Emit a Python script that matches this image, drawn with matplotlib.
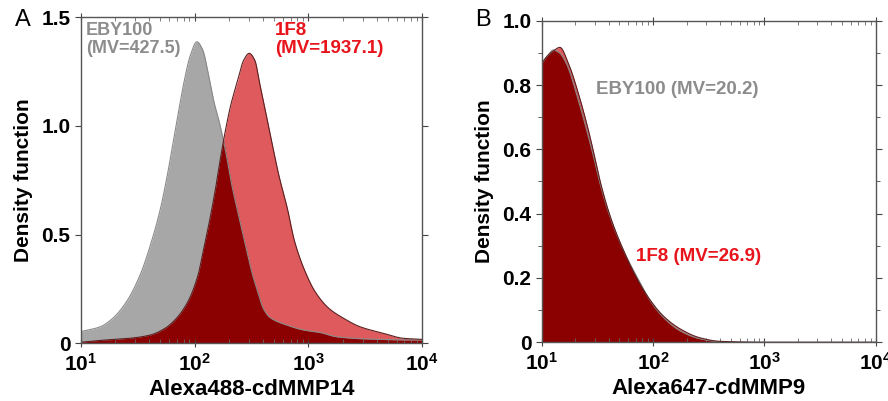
import numpy as np
import matplotlib
matplotlib.use("Agg")
import matplotlib.pyplot as plt
from matplotlib.ticker import LogLocator, NullFormatter, MultipleLocator

plt.rcParams['font.family'] = ['Liberation Sans', 'DejaVu Sans']
plt.rcParams['mathtext.fontset'] = 'custom'
plt.rcParams['mathtext.rm'] = 'Liberation Sans'
plt.rcParams['mathtext.bf'] = 'Liberation Sans:bold'

# panel A: Alexa488-cdMMP14 (log10 of intensity, density)
a_eby_logx = [1.00, 1.17, 1.28, 1.40, 1.52, 1.62, 1.70, 1.76, 1.81, 1.86, 1.91, 1.96,
              2.02, 2.07, 2.12, 2.17, 2.22, 2.27, 2.33, 2.39, 2.44, 2.51, 2.56, 2.60,
              2.66, 2.81, 2.96, 3.10, 3.25, 3.51, 3.95, 4.00]
a_eby_dens = [0.054, 0.076, 0.115, 0.191, 0.314, 0.467, 0.621, 0.774, 0.92, 1.07, 1.21, 1.32,
              1.386, 1.35, 1.24, 1.11, 1.01, 0.89, 0.72, 0.58, 0.467, 0.314, 0.23, 0.165,
              0.12, 0.084, 0.061, 0.05, 0.03, 0.02, 0.015, 0.015]
a_1f8_logx = [1.00, 1.14, 1.43, 1.61, 1.74, 1.84, 1.94, 2.03, 2.08, 2.13, 2.18, 2.23,
              2.275, 2.32, 2.38, 2.43, 2.48, 2.53, 2.57, 2.63, 2.69, 2.74, 2.815, 2.88,
              2.985, 3.06, 3.18, 3.31, 3.455, 3.66, 3.835, 4.00]
a_1f8_dens = [0.005, 0.012, 0.023, 0.038, 0.069, 0.115, 0.191, 0.314, 0.437, 0.56, 0.70, 0.86,
              0.99, 1.10, 1.21, 1.30, 1.333, 1.30, 1.20, 1.05, 0.896, 0.774, 0.621, 0.467,
              0.314, 0.237, 0.161, 0.115, 0.076, 0.046, 0.023, 0.018]

# panel B: Alexa647-cdMMP9
b_eby_logx = [1.00, 1.045, 1.104, 1.16, 1.22, 1.32, 1.404, 1.47, 1.524, 1.613, 1.733,
              1.883, 1.973, 2.092, 2.242, 2.422, 2.60, 3.00, 4.00]
b_eby_dens = [0.868, 0.888, 0.909, 0.90, 0.868, 0.764, 0.66, 0.572, 0.494, 0.391, 0.287,
              0.186, 0.130, 0.078, 0.036, 0.011, 0.002, 0.0, 0.0]
b_1f8_logx = [1.00, 1.045, 1.104, 1.164, 1.239, 1.338, 1.419, 1.479, 1.53, 1.616, 1.733,
              1.88, 1.973, 2.092, 2.242, 2.422, 2.60, 3.00, 4.00]
b_1f8_dens = [0.868, 0.888, 0.906, 0.917, 0.868, 0.764, 0.66, 0.572, 0.494, 0.391, 0.287,
              0.183, 0.132, 0.082, 0.042, 0.014, 0.003, 0.0, 0.0]

GRAY = '#a7a7a7'
LIGHT_RED = '#df5a5c'
DARK_RED = '#8b0000'


def smooth(x, y, xn):
    # monotone cubic (Fritsch-Carlson) so the read points are joined by a smooth line
    x = np.asarray(x, float)
    y = np.asarray(y, float)
    h = np.diff(x)
    d = np.diff(y) / h
    m = np.zeros_like(y)
    m[0], m[-1] = d[0], d[-1]
    for i in range(1, len(x) - 1):
        if d[i - 1] * d[i] > 0:
            w1 = 2 * h[i] + h[i - 1]
            w2 = h[i] + 2 * h[i - 1]
            m[i] = (w1 + w2) / (w1 / d[i - 1] + w2 / d[i])
    k = np.clip(np.searchsorted(x, xn) - 1, 0, len(x) - 2)
    t = (xn - x[k]) / h[k]
    h00 = 2 * t**3 - 3 * t**2 + 1
    h10 = t**3 - 2 * t**2 + t
    h01 = -2 * t**3 + 3 * t**2
    h11 = t**3 - t**2
    return h00 * y[k] + h10 * h[k] * m[k] + h01 * y[k + 1] + h11 * h[k] * m[k + 1]


def draw_panel(ax, eby_x, eby_y, f8_x, f8_y):
    grid = np.linspace(1, 4, 1500)
    g = np.clip(smooth(eby_x, eby_y, grid), 0, None)
    r = np.clip(smooth(f8_x, f8_y, grid), 0, None)
    xs = 10 ** grid
    ax.fill_between(xs, 0, g, color=GRAY, lw=0)
    ax.fill_between(xs, 0, r, color=LIGHT_RED, lw=0)
    ax.fill_between(xs, 0, np.minimum(g, r), color=DARK_RED, lw=0)
    ax.plot(xs, g, color='#8a8a8a', lw=0.8)
    ax.plot(xs, r, color='#5a2020', lw=0.8)
    ax.set_xscale('log')
    ax.set_xlim(10, 1e4)
    ax.set_xticks([10, 100, 1000, 10000])
    ax.set_xticklabels([r'$\mathbf{10^{1}}$', r'$\mathbf{10^{2}}$',
                        r'$\mathbf{10^{3}}$', r'$\mathbf{10^{4}}$'])
    ax.xaxis.set_minor_locator(LogLocator(base=10, subs=np.arange(2, 10)))
    ax.xaxis.set_minor_formatter(NullFormatter())
    ax.tick_params(axis='x', which='major', direction='inout', length=6, top=True,
                   labelsize=15, pad=4, color='#444')
    ax.tick_params(axis='x', which='minor', direction='in', length=3, top=True, color='#666')
    ax.tick_params(axis='y', which='both', direction='out', right=True, labelsize=15,
                   color='#444')
    ax.tick_params(axis='y', which='major', length=4)
    ax.tick_params(axis='y', which='minor', length=3)
    for s in ax.spines.values():
        s.set_color('#555')
        s.set_linewidth(1.0)
    ax.set_ylabel('Density function', fontsize=15, fontweight='bold', labelpad=6)


fig = plt.figure(figsize=(8.88, 4.01), dpi=100)

axA = fig.add_axes([0.0912, 0.1439, 0.384, 0.8137])
draw_panel(axA, a_eby_logx, a_eby_dens, a_1f8_logx, a_1f8_dens)
axA.set_ylim(0, 1.5)
axA.set_yticks([0, 0.5, 1.0, 1.5])
axA.set_yticklabels(['0', '0.5', '1.0', '1.5'], fontweight='bold')
axA.set_xlabel('Alexa488-cdMMP14', fontsize=16, fontweight='bold', labelpad=3)
axA.text(0.015, 0.985, 'EBY100\n(MV=427.5)', transform=axA.transAxes, ha='left', va='top',
         color='#8c8c8c', fontsize=13, fontweight='bold', linespacing=1.05)
axA.text(0.57, 0.985, '1F8\n(MV=1937.1)', transform=axA.transAxes, ha='left', va='top',
         color='#e8141c', fontsize=13.5, fontweight='bold', linespacing=1.05)
fig.text(15 / 888, 1 - 20 / 401, 'A', fontsize=17, ha='left', va='center')

axB = fig.add_axes([0.610, 0.1464, 0.3761, 0.802])
draw_panel(axB, b_eby_logx, b_eby_dens, b_1f8_logx, b_1f8_dens)
axB.set_ylim(0, 1.0)
axB.set_yticks([0, 0.2, 0.4, 0.6, 0.8, 1.0])
axB.set_yticklabels(['0', '0.2', '0.4', '0.6', '0.8', '1.0'], fontweight='bold')
axB.yaxis.set_minor_locator(MultipleLocator(0.1))
axB.set_xlabel('Alexa647-cdMMP9', fontsize=16, fontweight='bold', labelpad=3)
axB.text(10 ** 1.485, 0.785, 'EBY100 (MV=20.2)', ha='left', va='center',
         color='#8c8c8c', fontsize=13.5, fontweight='bold')
axB.text(10 ** 1.845, 0.268, '1F8 (MV=26.9)', ha='left', va='center',
         color='#e8141c', fontsize=13.5, fontweight='bold')
fig.text(475 / 888, 1 - 20 / 401, 'B', fontsize=17, ha='left', va='center')

fig.savefig('out.png', dpi=100)
